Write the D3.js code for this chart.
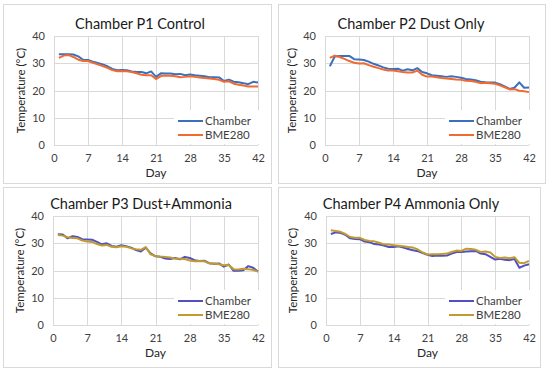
<!DOCTYPE html>
<html>
<head>
<meta charset="utf-8">
<script src="https://cdn.jsdelivr.net/npm/d3@7"></script>
<style>
  body { margin: 0; background: #fff; }
  svg { display: block; font-family: Lato, "Open Sans", sans-serif; }
</style>
</head>
<body>
<svg width="550" height="370"></svg>
<script>
// days 1..42
const days = d3.range(1, 43);
const xTicks = [0, 7, 14, 21, 28, 35, 42];
const yTicks = [0, 10, 20, 30, 40];
const titles = ["Chamber P1 Control", "Chamber P2 Dust Only", "Chamber P3 Dust+Ammonia", "Chamber P4 Ammonia Only"];
const seriesNames = ["Chamber", "BME280"];

const p1Chamber = [33.3,33.3,33.3,33.2,32.5,31.3,31.2,30.6,30.1,29.6,28.9,27.9,27.4,27.5,27.4,27.0,26.8,26.8,26.3,27.0,25.0,26.3,26.2,26.2,26.0,26.1,25.6,25.9,25.6,25.4,25.2,24.9,24.9,24.8,23.5,24.0,23.2,23.0,22.7,22.3,23.2,22.9];
const p1Bme = [32.0,32.8,33.0,32.3,31.3,30.8,30.8,30.2,29.6,29.0,28.3,27.5,27.1,27.2,27.1,26.8,26.3,25.8,25.6,25.6,24.2,25.3,25.5,25.4,25.2,24.9,25.0,25.2,25.0,24.8,24.6,24.4,24.2,23.9,23.2,23.4,22.5,22.1,21.8,21.5,21.5,21.5];
const p2Chamber = [28.9,32.5,32.7,32.7,32.7,31.5,31.4,31.2,30.6,29.8,29.2,28.5,28.0,27.9,28.0,27.3,27.8,27.4,28.2,26.8,26.3,25.6,25.4,25.2,25.0,25.2,25.0,24.7,24.2,24.0,23.8,23.2,23.0,22.9,22.9,22.3,21.5,20.6,21.0,23.0,21.0,21.1];
const p2Bme = [32.0,32.8,32.3,31.6,30.8,30.2,29.9,30.0,29.3,28.7,28.2,27.7,27.3,27.3,27.1,26.8,26.6,26.6,27.3,25.8,25.1,25.1,24.9,24.6,24.4,24.2,24.0,23.9,23.6,23.5,23.2,22.7,22.8,22.7,22.5,21.9,21.2,20.4,20.5,19.9,19.7,19.4];
const p3Chamber = [33.3,33.2,31.8,32.6,32.3,31.5,31.4,31.3,30.5,29.6,30.0,29.0,28.7,29.3,28.9,28.4,27.5,27.0,28.4,26.3,25.2,25.0,24.4,24.2,24.6,24.1,25.0,24.6,23.8,23.5,23.6,22.7,22.5,22.6,21.4,22.2,19.9,19.9,20.1,21.6,21.0,19.6];
const p3Bme = [33.0,32.8,32.2,31.9,31.8,31.0,30.6,30.5,29.7,29.2,29.4,28.7,28.5,28.9,28.7,28.2,27.8,27.6,28.6,25.9,25.3,25.1,25.0,24.8,24.4,24.3,24.2,23.7,23.4,23.5,23.4,22.6,22.6,22.3,21.9,22.0,20.5,20.4,20.6,20.5,20.2,19.6];
const p4Chamber = [33.4,34.0,33.8,33.1,31.8,31.6,31.5,30.6,30.4,29.7,29.5,29.2,28.6,28.6,28.9,28.4,27.9,27.4,27.1,26.4,25.8,25.3,25.5,25.4,25.5,26.2,26.8,26.8,27.0,27.1,27.2,26.2,26.0,25.0,24.0,24.3,23.9,23.8,24.2,21.0,21.8,22.3];
const p4Bme = [34.8,34.5,34.2,33.4,32.3,32.0,32.0,31.2,30.8,30.7,30.2,29.6,29.5,29.3,29.1,28.9,28.6,28.4,27.7,26.6,25.9,26.0,26.0,26.1,26.2,26.8,27.3,27.2,28.0,27.9,27.6,26.8,27.0,26.6,25.0,24.6,24.8,24.5,24.9,22.8,22.7,23.5];

const panelData = [[p1Chamber, p1Bme], [p2Chamber, p2Bme], [p3Chamber, p3Bme], [p4Chamber, p4Bme]];
const panelColors = [["#3a70bd", "#f26a30"], ["#3a70bd", "#f26a30"], ["#5050c0", "#bf9b30"], ["#5050c0", "#bf9b30"]];

// layout of each panel (frame + plot area)
const layout = [
  {fx: 3, fy: 4, fw: 268, fh: 179, x0: 54, x1: 258, yTop: 36, yBot: 145, tx: 140, ty: 29},
  {fx: 278, fy: 4, fw: 267, fh: 179, x0: 325, x1: 529, yTop: 36, yBot: 145, tx: 411, ty: 29},
  {fx: 3, fy: 187, fw: 268, fh: 180, x0: 53, x1: 258, yTop: 216, yBot: 325, tx: 141, ty: 209},
  {fx: 278, fy: 187, fw: 262, fh: 180, x0: 326, x1: 529, yTop: 216, yBot: 325, tx: 411, ty: 209}
];

const svg = d3.select("svg");

layout.forEach(function(L, i) {
  let g = svg.append("g");

  g.append("rect")
    .attr("x", L.fx + 0.5).attr("y", L.fy + 0.5)
    .attr("width", L.fw).attr("height", L.fh)
    .attr("fill", "#fff").attr("stroke", "#d9d9d9");

  let x = d3.scaleLinear().domain([0, 42]).range([L.x0, L.x1]);
  let y = d3.scaleLinear().domain([0, 40]).range([L.yBot, L.yTop]);

  // gridlines
  g.append("g").selectAll("line").data(yTicks).enter().append("line")
    .attr("x1", L.x0).attr("x2", L.x1)
    .attr("y1", d => Math.round(y(d)) + 0.5).attr("y2", d => Math.round(y(d)) + 0.5)
    .attr("stroke", "#d9d9d9");
  g.append("g").selectAll("line").data(xTicks).enter().append("line")
    .attr("x1", d => Math.round(x(d)) + 0.5).attr("x2", d => Math.round(x(d)) + 0.5)
    .attr("y1", L.yTop).attr("y2", L.yBot)
    .attr("stroke", "#d9d9d9");

  // axes (labels only, lines drawn as grid)
  let xAxis = d3.axisBottom(x).tickValues(xTicks).tickSize(0).tickPadding(9);
  let yAxis = d3.axisLeft(y).tickValues(yTicks).tickSize(0).tickPadding(9);
  let gx = g.append("g").attr("transform", "translate(0," + L.yBot + ")").call(xAxis);
  let gy = g.append("g").attr("transform", "translate(" + L.x0 + ",0)").call(yAxis);
  [gx, gy].forEach(a => {
    a.select(".domain").remove();
    a.selectAll("text").attr("font-size", 11).attr("fill", "#404040").style("font-family", "Lato, sans-serif");
  });

  g.append("text")
    .attr("x", L.tx).attr("y", L.ty)
    .attr("text-anchor", "middle").attr("font-size", 14.5).attr("fill", "#1a1a1a")
    .text(titles[i]);

  g.append("text")
    .attr("x", (L.x0 + L.x1) / 2).attr("y", L.yBot + 32)
    .attr("text-anchor", "middle").attr("font-size", 12).attr("fill", "#262626")
    .text("Day");

  g.append("text")
    .attr("transform", "translate(" + (L.x0 - 29) + "," + ((L.yTop + L.yBot) / 2) + ") rotate(-90)")
    .attr("text-anchor", "middle").attr("font-size", 11.5).attr("fill", "#262626")
    .text("Temperature (°C)");

  let line = d3.line().x((d, j) => x(days[j])).y(d => y(d));
  // draw BME280 first then Chamber on top? Chamber first in legend; draw chamber then BME
  panelData[i].forEach(function(vals, k) {
    g.append("path")
      .datum(vals)
      .attr("d", line)
      .attr("fill", "none")
      .attr("stroke", panelColors[i][k])
      .attr("stroke-width", 2)
      .attr("stroke-linejoin", "round");
  });

  // legend
  let lg = g.append("g").attr("transform", "translate(" + (L.x1 - 80) + "," + (L.yBot - 35) + ")");
  lg.append("rect").attr("x", -4).attr("y", 0).attr("width", 86).attr("height", 34).attr("fill", "#fff");
  seriesNames.forEach(function(name, k) {
    let yy = 11 + k * 14;
    lg.append("line").attr("x1", 0).attr("x2", 25).attr("y1", yy).attr("y2", yy)
      .attr("stroke", panelColors[i][k]).attr("stroke-width", 2);
    lg.append("text").attr("x", 27).attr("y", yy + 4)
      .attr("font-size", 11.5).attr("fill", "#404040").text(name);
  });
});
</script>
</body>
</html>
